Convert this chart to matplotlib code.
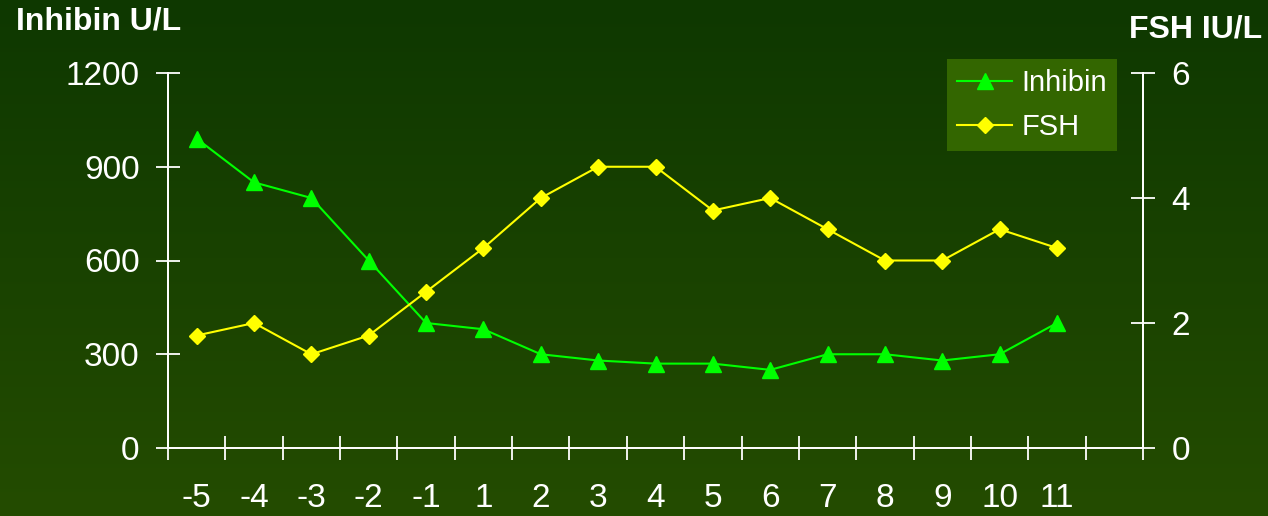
import numpy as np
import matplotlib
matplotlib.use("Agg")
import matplotlib.pyplot as plt
from matplotlib.colors import LinearSegmentedColormap

# data
days = ["-5", "-4", "-3", "-2", "-1", "1", "2", "3", "4", "5", "6", "7", "8", "9", "10", "11"]
inhibin = [990, 850, 800, 600, 400, 380, 300, 280, 270, 270, 250, 300, 300, 280, 300, 400]
fsh = [1.8, 2.0, 1.5, 1.8, 2.5, 3.2, 4.0, 4.5, 4.5, 3.8, 4.0, 3.5, 3.0, 3.0, 3.5, 3.2]
n_slots = 17  # category axis has one empty slot at the end

plt.rcParams["font.family"] = ["Liberation Sans", "DejaVu Sans"]
W, H = 1268, 516
fig = plt.figure(figsize=(W / 100, H / 100), dpi=100)

# gradient background
bg = fig.add_axes([0, 0, 1, 1], zorder=-10)
cmap = LinearSegmentedColormap.from_list("bg", ["#0e3800", "#244c00"])
bg.imshow(np.linspace(0, 1, 256).reshape(-1, 1), aspect="auto", cmap=cmap,
          extent=[0, 1, 0, 1])
bg.axis("off")

left, right, top, bottom = 168, 1143, 73, 448
ax = fig.add_axes([left / W, 1 - bottom / H, (right - left) / W, (bottom - top) / H])
ax.patch.set_alpha(0)
ax2 = ax.twinx()
ax2.patch.set_alpha(0)

x = np.arange(len(days)) + 0.5
l1, = ax.plot(x, inhibin, color="#00ff00", lw=1.5, marker="^", ms=11,
              markeredgecolor="#00ff00", label="Inhibin", clip_on=False)
l2, = ax2.plot(x, fsh, color="#ffff00", lw=1.5, marker="D", ms=8.5,
               markeredgecolor="#ffff00", label="FSH", clip_on=False)

ax.set_xlim(0, n_slots)
ax.set_ylim(0, 1200)
ax2.set_ylim(0, 6)

ax.set_yticks([0, 300, 600, 900, 1200])
ax2.set_yticks([0, 2, 4, 6])
ax.set_xticks(np.arange(n_slots + 1))
ax.set_xticklabels([])
ax.set_xticks(x, minor=True)
ax.set_xticklabels(days, minor=True)

for a in (ax, ax2):
    for s in a.spines.values():
        s.set_color("white")
        s.set_linewidth(1.3)
    a.spines["top"].set_visible(False)

ax.tick_params(axis="y", direction="inout", length=17, width=1.3, colors="white",
               labelsize=24, pad=12)
ax2.tick_params(axis="y", direction="inout", length=17, width=1.3, colors="white",
                labelsize=24, pad=12)
ax.tick_params(axis="x", which="major", direction="inout", length=17, width=1.3,
               colors="white")
ax.tick_params(axis="x", which="minor", length=0, colors="white", labelsize=24, pad=25)

fig.text(16 / W, 1 - 22 / H, "Inhibin U/L", color="white", fontsize=23,
         fontweight="bold", va="center", ha="left")
fig.text(1262 / W, 1 - 30 / H, "FSH IU/L", color="white", fontsize=23,
         fontweight="bold", va="center", ha="right")

leg = ax.legend(handles=[l1, l2], loc="upper right",
                bbox_to_anchor=((1117 - left) / (right - left), (bottom - 59) / (bottom - top)),
                borderaxespad=0, frameon=True, fancybox=False, fontsize=21,
                handlelength=1.9, handletextpad=0.3, borderpad=0.35, labelspacing=0.55)
leg.get_frame().set_facecolor("#336600")
leg.get_frame().set_edgecolor("none")
leg.get_frame().set_alpha(1)
for t in leg.get_texts():
    t.set_color("white")

fig.savefig("out.png", dpi=100)
